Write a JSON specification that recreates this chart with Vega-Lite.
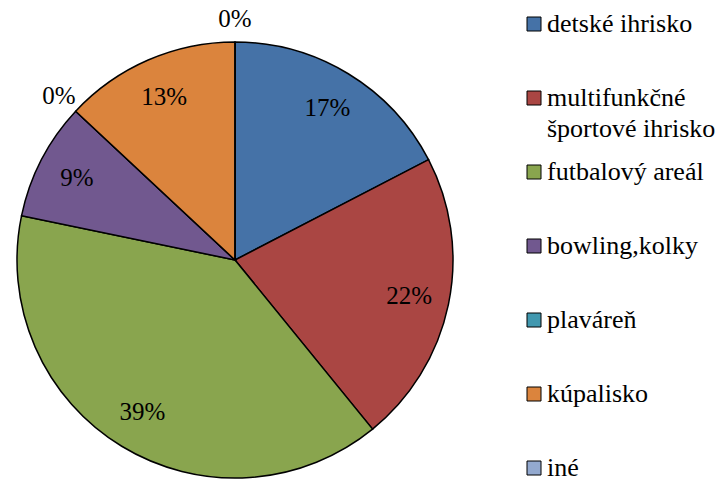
{
  "$schema": "https://vega.github.io/schema/vega-lite/v6.json",
  "width": 470,
  "height": 436,
  "autosize": {"type": "none"},
  "padding": {"left": 0, "top": 42, "right": 257, "bottom": 1},
  "background": "white",
  "config": {"view": {"stroke": null}},
  "data": {
    "values": [
      {"idx": 1, "kategoria": "detské ihrisko", "pocet": 4, "label": "17%"},
      {"idx": 2, "kategoria": "multifunkčné športové ihrisko", "pocet": 5, "label": "22%"},
      {"idx": 3, "kategoria": "futbalový areál", "pocet": 9, "label": "39%"},
      {"idx": 4, "kategoria": "bowling,kolky", "pocet": 2, "label": "9%"},
      {"idx": 5, "kategoria": "plaváreň", "pocet": 0, "label": "0%"},
      {"idx": 6, "kategoria": "kúpalisko", "pocet": 3, "label": "13%"},
      {"idx": 7, "kategoria": "iné", "pocet": 0, "label": "0%"}
    ]
  },
  "encoding": {
    "theta": {"field": "pocet", "type": "quantitative", "stack": true},
    "order": {"field": "idx", "type": "quantitative"}
  },
  "layer": [
    {
      "mark": {"type": "arc", "stroke": "black", "strokeWidth": 1.5},
      "encoding": {
        "color": {
          "field": "kategoria",
          "type": "nominal",
          "sort": ["detské ihrisko", "multifunkčné športové ihrisko", "futbalový areál", "bowling,kolky", "plaváreň", "kúpalisko", "iné"],
          "scale": {
            "domain": ["detské ihrisko", "multifunkčné športové ihrisko", "futbalový areál", "bowling,kolky", "plaváreň", "kúpalisko", "iné"],
            "range": ["#4572A7", "#AA4643", "#89A54E", "#71588F", "#4198AF", "#DB843D", "#93A9CF"]
          },
          "legend": {
            "title": null,
            "orient": "none",
            "padding": 0,
            "legendX": 521,
            "legendY": -31,
            "symbolType": "square",
            "symbolSize": 196,
            "symbolStrokeColor": "black",
            "symbolStrokeWidth": 1,
            "symbolOpacity": 1,
            "labelFont": "Times New Roman",
            "labelFontSize": 26,
            "labelColor": "black",
            "labelLimit": 300,
            "labelOffset": 0,
            "rowPadding": 17,
            "gridAlign": "all",
            "labelExpr": "datum.label == 'multifunkčné športové ihrisko' ? ['multifunkčné', 'športové ihrisko'] : datum.label",
            "encode": {
              "labels": {
                "update": {
                  "lineHeight": {"value": 31}
                }
              }
            }
          }
        }
      }
    },
    {
      "mark": {"type": "text", "radius": 178, "font": "Liberation Serif", "fontSize": 25, "color": "black"},
      "encoding": {
        "text": {"condition": {"test": "datum.pocet == 0", "value": ""}, "field": "label"}
      }
    },
    {
      "mark": {"type": "text", "radius": 241, "font": "Liberation Serif", "fontSize": 25, "color": "black"},
      "encoding": {
        "text": {"condition": {"test": "datum.pocet > 0", "value": ""}, "field": "label"}
      }
    }
  ]
}
